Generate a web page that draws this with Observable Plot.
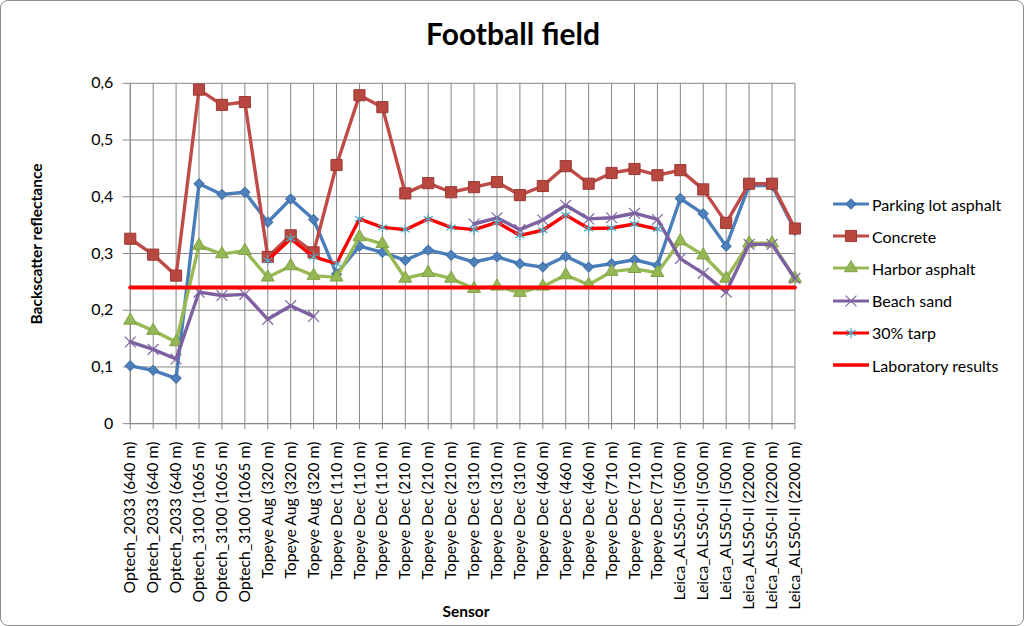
<!DOCTYPE html>
<html>
<head>
<meta charset="utf-8">
<script src="https://cdn.jsdelivr.net/npm/d3@7"></script>
<script src="https://cdn.jsdelivr.net/npm/@observablehq/plot@0.6"></script>
<style>
  html, body { margin: 0; padding: 0; background: #fff; }
  #chart { position: relative; width: 1024px; height: 626px; box-sizing: border-box; border: 1px solid #8c8c8c; border-radius: 8px; overflow: hidden; font-family: Lato, "Open Sans", sans-serif; color: #000; }
  #chart > svg { position: absolute; left: -1px; top: -1px; }
  .title { position: absolute; left: 0; width: 1024px; top: 17px; text-align: center; font-weight: bold; font-size: 30px; line-height: 1; }
  .ylab { position: absolute; left: 35px; top: 243px; transform: translate(-50%, -50%) rotate(-90deg); font-weight: bold; font-size: 15.5px; white-space: nowrap; }
  .xlab { position: absolute; left: 465px; top: 610px; transform: translate(-50%, -50%); font-weight: bold; font-size: 15.5px; }
  .legend { position: absolute; left: 831px; top: 187px; }
  .legend .item { display: flex; align-items: center; height: 32.2px; font-size: 16px; white-space: nowrap; }
  .legend svg { margin-right: 2px; }
</style>
</head>
<body>
<div id="chart">
  <div class="title">Football field</div>
  <div class="ylab">Backscatter reflectance</div>
  <div class="xlab">Sensor</div>
  <div class="legend" id="legend"></div>
</div>
<script>
const sensors = [
  "Optech_2033 (640 m)", "Optech_2033 (640 m)", "Optech_2033 (640 m)",
  "Optech_3100 (1065 m)", "Optech_3100 (1065 m)", "Optech_3100 (1065 m)",
  "Topeye Aug (320 m)", "Topeye Aug (320 m)", "Topeye Aug (320 m)",
  "Topeye Dec (110 m)", "Topeye Dec (110 m)", "Topeye Dec (110 m)",
  "Topeye Dec (210 m)", "Topeye Dec (210 m)", "Topeye Dec (210 m)",
  "Topeye Dec (310 m)", "Topeye Dec (310 m)", "Topeye Dec (310 m)",
  "Topeye Dec (460 m)", "Topeye Dec (460 m)", "Topeye Dec (460 m)",
  "Topeye Dec (710 m)", "Topeye Dec (710 m)", "Topeye Dec (710 m)",
  "Leica_ALS50-II (500 m)", "Leica_ALS50-II (500 m)", "Leica_ALS50-II (500 m)",
  "Leica_ALS50-II (2200 m)", "Leica_ALS50-II (2200 m)", "Leica_ALS50-II (2200 m)"
];

const parkingLotAsphalt = [0.102, 0.094, 0.080, 0.423, 0.404, 0.408, 0.355, 0.396, 0.360, 0.264, 0.313, 0.302,
  0.288, 0.306, 0.297, 0.285, 0.294, 0.282, 0.276, 0.295, 0.276, 0.282, 0.289, 0.279, 0.397, 0.370, 0.313, 0.420, 0.420, 0.341];
const concrete = [0.326, 0.298, 0.261, 0.589, 0.562, 0.567, 0.294, 0.332, 0.302, 0.456, 0.579, 0.558,
  0.406, 0.424, 0.408, 0.417, 0.426, 0.403, 0.419, 0.454, 0.423, 0.442, 0.449, 0.438, 0.447, 0.413, 0.354, 0.423, 0.423, 0.344];
const harborAsphalt = [0.182, 0.164, 0.144, 0.314, 0.299, 0.305, 0.258, 0.278, 0.261, 0.258, 0.329, 0.317,
  0.256, 0.266, 0.256, 0.238, 0.242, 0.231, 0.242, 0.262, 0.245, 0.268, 0.273, 0.266, 0.322, 0.297, 0.256, 0.318, 0.318, 0.256];
const beachSand = [0.144, 0.131, 0.114, 0.232, 0.226, 0.228, 0.184, 0.208, 0.189, null, null, null,
  null, null, null, 0.352, 0.363, 0.342, 0.359, 0.385, 0.361, 0.363, 0.371, 0.360, 0.291, 0.265, 0.232, 0.316, 0.316, 0.256];
const tarp30 = [null, null, null, null, null, null, 0.288, 0.326, 0.294, 0.282, 0.361, 0.346,
  0.342, 0.361, 0.346, 0.342, 0.355, 0.332, 0.341, 0.368, 0.344, 0.345, 0.352, 0.343, null, null, null, null, null, null];
const laboratoryResults = [0.24, 0.24, 0.24, 0.24, 0.24, 0.24, 0.24, 0.24, 0.24, 0.24, 0.24, 0.24, 0.24, 0.24, 0.24,
  0.24, 0.24, 0.24, 0.24, 0.24, 0.24, 0.24, 0.24, 0.24, 0.24, 0.24, 0.24, 0.24, 0.24, 0.24];
const yTicks = [0, 0.1, 0.2, 0.3, 0.4, 0.5, 0.6];

const idx = sensors.map((_, i) => i);
const rows = arr => arr.map((v, i) => ({i, v}));

const series = [
  {name: "Parking lot asphalt", values: parkingLotAsphalt, line: "#4A7EBB", marker: {symbol: "square", rotate: 45, r: 4, fill: "#4F81BD", stroke: "#3F6FA8", strokeWidth: 1}},
  {name: "Concrete", values: concrete, line: "#BE4B48", marker: {symbol: "square", r: 6.3, fill: "#B8473F", stroke: "#9A3A35", strokeWidth: 1}},
  {name: "Harbor asphalt", values: harborAsphalt, line: "#98B954", marker: {symbol: "triangle", r: 4.8, fill: "#94B855", stroke: "#80A045", strokeWidth: 1}},
  {name: "Beach sand", values: beachSand, line: "#7D60A0", marker: {symbol: "times", r: 5, fill: "none", stroke: "#8064A2", strokeWidth: 1.2}},
  {name: "30% tarp", values: tarp30, line: "#FF0000", marker: {symbol: "asterisk", r: 5, fill: "none", stroke: "#4BACC6", strokeWidth: 1.2}}
];

const marks = [
  Plot.gridY({ticks: yTicks, stroke: "#878787", strokeOpacity: 1, strokeWidth: 1}),
  Plot.gridX({ticks: idx, stroke: "#878787", strokeOpacity: 1, strokeWidth: 1}),
  Plot.axisY({ticks: yTicks, tickSize: 7, tickPadding: 10, stroke: "#878787", fontSize: 16,
    tickFormat: d => d === 0 ? "0" : d.toFixed(1).replace(".", ","), label: null}),
  Plot.axisX({ticks: idx, tickSize: 6, tickPadding: 12, tickRotate: -90, stroke: "#878787", fontSize: 15.8,
    tickFormat: i => sensors[i], label: null}),
  Plot.ruleY([0], {stroke: "#878787"}),
  Plot.ruleX([0], {stroke: "#878787"})
];
for (const s of series) {
  marks.push(Plot.line(rows(s.values), {x: "i", y: "v", stroke: s.line, strokeWidth: 3.4, strokeLinejoin: "round", strokeLinecap: "round"}));
  marks.push(Plot.dot(rows(s.values).filter(d => d.v != null), {x: "i", y: "v", ...s.marker}));
}
marks.push(Plot.line(rows(laboratoryResults), {x: "i", y: "v", stroke: "#FF0000", strokeWidth: 4}));

const chart = Plot.plot({
  width: 1024,
  height: 626,
  marginTop: 83,
  marginBottom: 202,
  marginLeft: 130,
  marginRight: 228,
  style: {fontFamily: "Lato, 'Open Sans', sans-serif", fontSize: "16px", color: "#000", background: "transparent", overflow: "visible"},
  x: {type: "linear", domain: [0, 29]},
  y: {type: "linear", domain: [0, 0.6]},
  marks
});
document.getElementById("chart").prepend(chart);

// legend
const legend = document.getElementById("legend");
const ns = "http://www.w3.org/2000/svg";
const legendItems = [...series.map(s => ({name: s.name, line: s.line, marker: s.marker})),
  {name: "Laboratory results", line: "#FF0000", marker: null}];
for (const it of legendItems) {
  const div = document.createElement("div");
  div.className = "item";
  const svg = document.createElementNS(ns, "svg");
  svg.setAttribute("width", 38); svg.setAttribute("height", 16);
  const ln = document.createElementNS(ns, "line");
  ln.setAttribute("x1", 1); ln.setAttribute("x2", 37); ln.setAttribute("y1", 8); ln.setAttribute("y2", 8);
  ln.setAttribute("stroke", it.line); ln.setAttribute("stroke-width", it.marker ? 3 : 3.4);
  svg.appendChild(ln);
  if (it.marker) {
    const m = it.marker;
    const sym = {square: d3.symbolSquare, triangle: d3.symbolTriangle, times: d3.symbolTimes, asterisk: d3.symbolAsterisk}[m.symbol];
    const p = document.createElementNS(ns, "path");
    p.setAttribute("d", d3.symbol(sym, Math.PI * m.r * m.r)());
    p.setAttribute("transform", `translate(19,8)` + (m.rotate ? ` rotate(${m.rotate})` : ""));
    p.setAttribute("fill", m.fill); p.setAttribute("stroke", m.stroke); p.setAttribute("stroke-width", m.strokeWidth);
    svg.appendChild(p);
  }
  div.appendChild(svg);
  const t = document.createElement("span");
  t.textContent = it.name;
  div.appendChild(t);
  legend.appendChild(div);
}
</script>
</body>
</html>
